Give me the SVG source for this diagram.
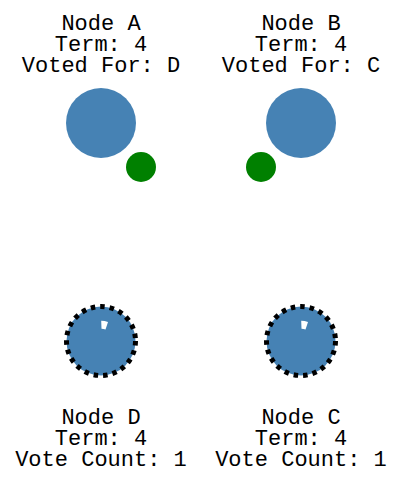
<svg xmlns="http://www.w3.org/2000/svg" width="407" height="483" viewBox="0 0 407 483">
<style>
.lbl{font-family:"Liberation Mono","Courier New",monospace;font-size:22px;fill:#000;text-anchor:middle}
.node{fill:#4682b4}
.cand{fill:#4682b4;stroke:#000;stroke-width:5;stroke-dasharray:4.5 5}
.vote{fill:#008000}
.prog{fill:#fff}
</style>
<rect width="407" height="483" fill="#fff"/>
<g id="nodeA">
<text class="lbl" x="101" y="30"><tspan x="101">Node A</tspan><tspan x="101" dy="21">Term: 4</tspan><tspan x="101" dy="21">Voted For: D</tspan></text>
<circle class="node" cx="101" cy="123" r="35"/>
</g>
<g id="nodeB">
<text class="lbl" x="301" y="30"><tspan x="301">Node B</tspan><tspan x="301" dy="21">Term: 4</tspan><tspan x="301" dy="21">Voted For: C</tspan></text>
<circle class="node" cx="301" cy="123" r="35"/>
</g>
<g id="nodeD">
<circle class="cand" cx="101" cy="341" r="34.5"/>
<path class="prog" d="M101.2,320.8 A20.2,20.2 0 0 1 108,322 L105.5,329.6 A12.2,12.2 0 0 0 101.5,328.8 Z"/>
<text class="lbl" x="101" y="424"><tspan x="101">Node D</tspan><tspan x="101" dy="21">Term: 4</tspan><tspan x="101" dy="21">Vote Count: 1</tspan></text>
</g>
<g id="nodeC">
<circle class="cand" cx="301" cy="341" r="34.5"/>
<path class="prog" d="M301.2,320.8 A20.2,20.2 0 0 1 308,322 L305.5,329.6 A12.2,12.2 0 0 0 301.5,328.8 Z"/>
<text class="lbl" x="301" y="424"><tspan x="301">Node C</tspan><tspan x="301" dy="21">Term: 4</tspan><tspan x="301" dy="21">Vote Count: 1</tspan></text>
</g>
<g id="connectors">
<circle id="voteAtoD" class="vote" cx="141" cy="167" r="15"/>
<circle id="voteBtoC" class="vote" cx="261" cy="167" r="15"/>
</g>
</svg>
